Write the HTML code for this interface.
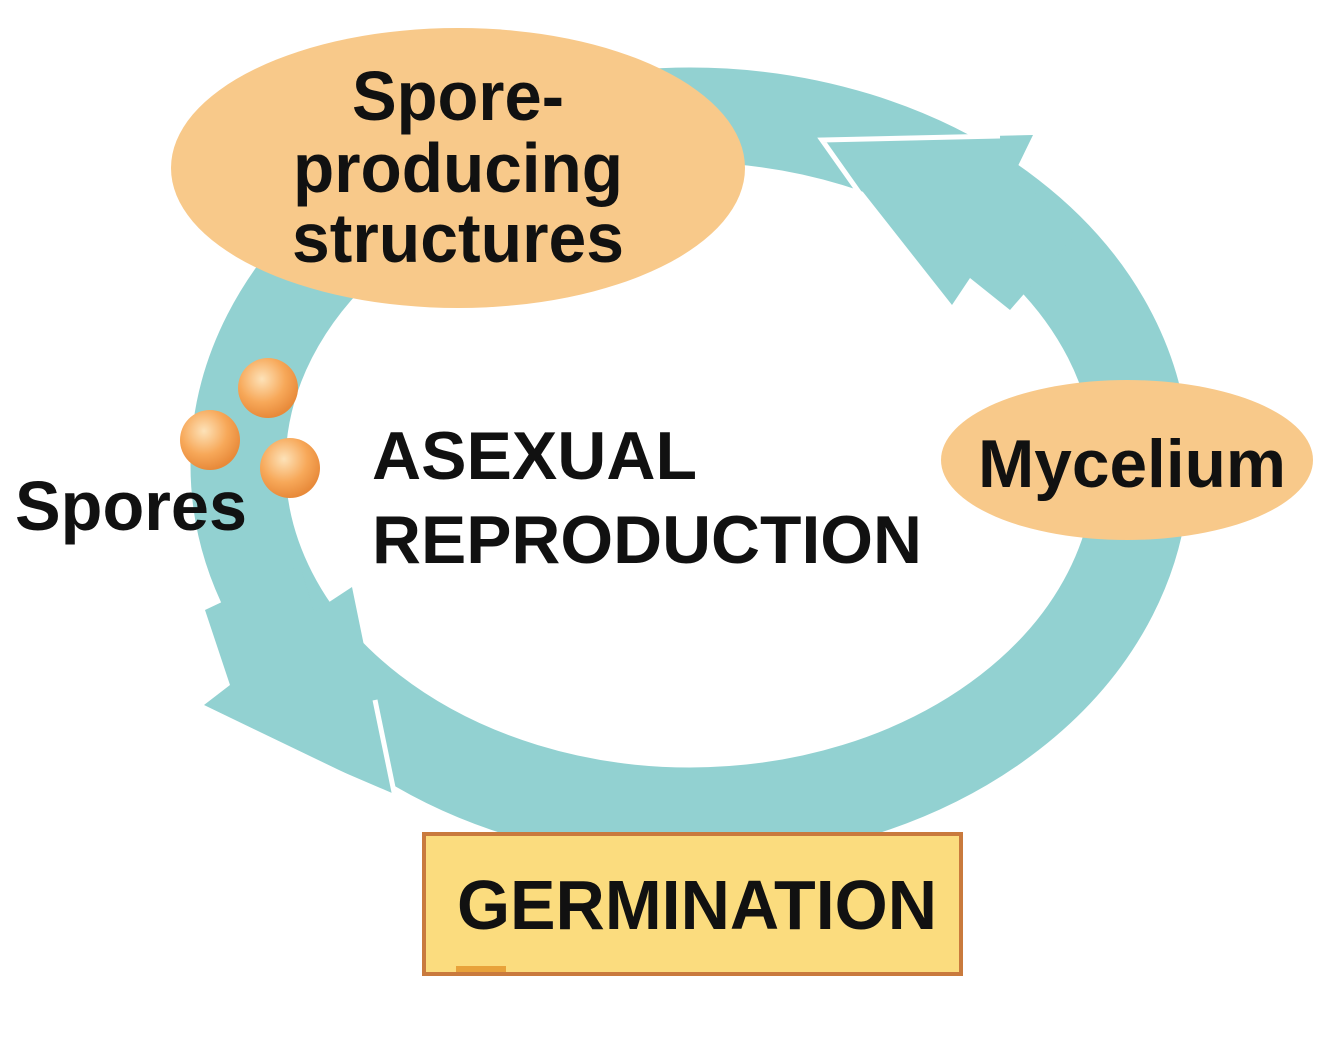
<!DOCTYPE html>
<html><head><style>body{margin:0;background:#fff}svg{display:block}</style></head>
<body>
<svg width="1334" height="1039" viewBox="0 0 1334 1039" xmlns="http://www.w3.org/2000/svg" font-family="Liberation Sans, Arial, sans-serif" font-weight="bold">
<defs>
<radialGradient id="sp" cx="40%" cy="35%" r="65%">
<stop offset="0" stop-color="#fde2b8"/><stop offset="0.6" stop-color="#f7a859"/><stop offset="1" stop-color="#e88a3a"/>
</radialGradient>
</defs>
<ellipse cx="690" cy="465" rx="452" ry="350" fill="none" stroke="#92d1d1" stroke-width="95"/>
<!-- top-right arrowhead -->
<polygon points="822,140 1033,135 1015,172 1075,235 1010,310 970,278 952,305" fill="#92d1d1"/>
<polyline points="1000,136 822,140 880,222" fill="none" stroke="#fff" stroke-width="5"/>
<!-- bottom-left arrowhead -->
<polygon points="395,797 204,705 230,685 205,610 300,565 314,612 352,587" fill="#92d1d1"/>
<polyline points="290,752 395,797 375,700" fill="none" stroke="#fff" stroke-width="5"/>
<!-- ovals -->
<ellipse cx="458" cy="168" rx="287" ry="140" fill="#f8c98a"/>
<ellipse cx="1127" cy="460" rx="186" ry="80" fill="#f8c98a"/>
<!-- spores -->
<circle cx="268" cy="388" r="30" fill="url(#sp)"/>
<circle cx="210" cy="440" r="30" fill="url(#sp)"/>
<circle cx="290" cy="468" r="30" fill="url(#sp)"/>
<!-- germination box -->
<rect x="424" y="834" width="537" height="140" fill="#fbdc7e" stroke="#c97a3d" stroke-width="4"/>
<rect x="456" y="966" width="50" height="6" fill="#e8a23a"/>
<g fill="#111">
<text x="458" y="120" font-size="70" text-anchor="middle" textLength="212" lengthAdjust="spacingAndGlyphs">Spore-</text>
<text x="458" y="192" font-size="70" text-anchor="middle" textLength="330" lengthAdjust="spacingAndGlyphs">producing</text>
<text x="458" y="262" font-size="70" text-anchor="middle" textLength="332" lengthAdjust="spacingAndGlyphs">structures</text>
<text x="372" y="479" font-size="68" textLength="325" lengthAdjust="spacingAndGlyphs">ASEXUAL</text>
<text x="372" y="563" font-size="68" textLength="550" lengthAdjust="spacingAndGlyphs">REPRODUCTION</text>
<text x="15" y="530" font-size="70" textLength="232" lengthAdjust="spacingAndGlyphs">Spores</text>
<text x="978" y="487" font-size="68" textLength="308" lengthAdjust="spacingAndGlyphs">Mycelium</text>
<text x="457" y="929" font-size="70" textLength="480" lengthAdjust="spacingAndGlyphs">GERMINATION</text>
</g>
</svg>
</body></html>
